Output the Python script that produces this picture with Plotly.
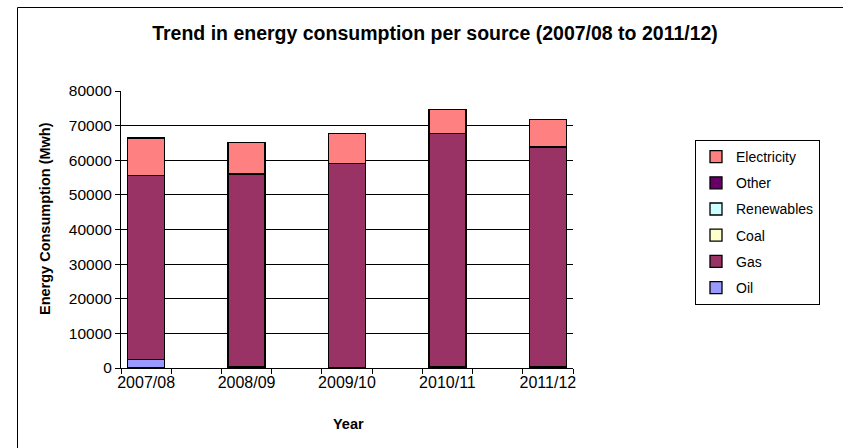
import plotly.graph_objects as go

# dados (MWh)
anos = ["2007/08", "2008/09", "2009/10", "2010/11", "2011/12"]
oil = [2400, 300, 0, 400, 400]
gas = [53180, 55750, 59130, 67390, 63440]
coal = [0, 0, 0, 0, 0]
renewables = [0, 0, 0, 0, 0]
other = [0, 0, 0, 0, 0]
electricity = [10860, 9140, 8660, 6820, 7890]

y_ticks = [0, 10000, 20000, 30000, 40000, 50000, 60000, 70000, 80000]

W, H = 843, 448
ML, MR, MT, MB = 121, 270, 91, 80

# cada ano ocupa uma categoria, com uma categoria vazia entre eles
pos = [i * 2 for i in range(len(anos))]

series = [
    ("Oil", oil, "#9999FF"),
    ("Gas", gas, "#993366"),
    ("Coal", coal, "#FFFFCC"),
    ("Renewables", renewables, "#CCFFFF"),
    ("Other", other, "#660066"),
    ("Electricity", electricity, "#FF8080"),
]

fig = go.Figure()
for i, (nome, vals, cor) in enumerate(series):
    fig.add_trace(go.Bar(
        x=pos, y=vals, name=nome, width=0.74,
        marker=dict(color=cor, line=dict(color="black", width=1.3)),
        legendgroup=nome, legendrank=len(series) - i,
    ))

pw = W - ML - MR
ph = H - MT - MB

def px_x(v):
    return (v - ML) / pw

def px_y(v):
    return (H - MB - v) / ph

fig.update_layout(
    width=W, height=H,
    barmode="stack",
    paper_bgcolor="white", plot_bgcolor="white",
    margin=dict(l=ML, r=MR, t=MT, b=MB, autoexpand=False),
    font=dict(family="Liberation Sans, Arial", size=15, color="black"),
    title=dict(text="<b>Trend in energy consumption per source (2007/08 to 2011/12)</b>",
               x=435 / W, xanchor="center", y=1 - 33 / H, yanchor="middle",
               font=dict(size=19.5)),
    legend=dict(
        traceorder="grouped", tracegroupgap=5,
        x=px_x(695), xanchor="left", y=px_y(140), yanchor="top",
        bordercolor="black", borderwidth=1, bgcolor="white",
        font=dict(size=14), itemwidth=30,
    ),
    xaxis=dict(
        range=[-0.5, 8.5], tickmode="array", tickvals=pos, ticktext=anos,
        ticks="", showgrid=False, showline=True, linecolor="black", linewidth=1,
        minor=dict(ticks="outside", tick0=0.5, dtick=1, ticklen=5, tickcolor="black", showgrid=False),
        tickfont=dict(size=16),
        fixedrange=True,
    ),
    yaxis=dict(
        range=[0, 80000], tickmode="array", tickvals=y_ticks,
        ticktext=[str(v) for v in y_ticks],
        ticks="outside", ticklen=5, tickcolor="black",
        showgrid=True, gridcolor="black", gridwidth=1,
        showline=True, linecolor="black", linewidth=1, zeroline=False,
        tickfont=dict(size=15.5),
    ),
    annotations=[
        dict(text="<b>Year</b>", xref="paper", yref="paper", x=px_x(348), y=px_y(424),
             xanchor="center", yanchor="middle", showarrow=False, font=dict(size=14.5)),
        dict(text="<b>Energy Consumption (Mwh)</b>", xref="paper", yref="paper",
             x=px_x(45), y=px_y(219), textangle=-90,
             xanchor="center", yanchor="middle", showarrow=False, font=dict(size=14.5)),
    ],
    shapes=[
        dict(type="line", xref="paper", yref="paper",
             x0=px_x(17.5), x1=px_x(W + 5), y0=px_y(7.5), y1=px_y(7.5),
             line=dict(color="black", width=1)),
        dict(type="line", xref="paper", yref="paper",
             x0=px_x(17.5), x1=px_x(17.5), y0=px_y(7.5), y1=px_y(H + 5),
             line=dict(color="black", width=1)),
    ],
)

fig.write_html("out.html", config={"displayModeBar": False},
               post_script="document.body.style.margin='0';")
